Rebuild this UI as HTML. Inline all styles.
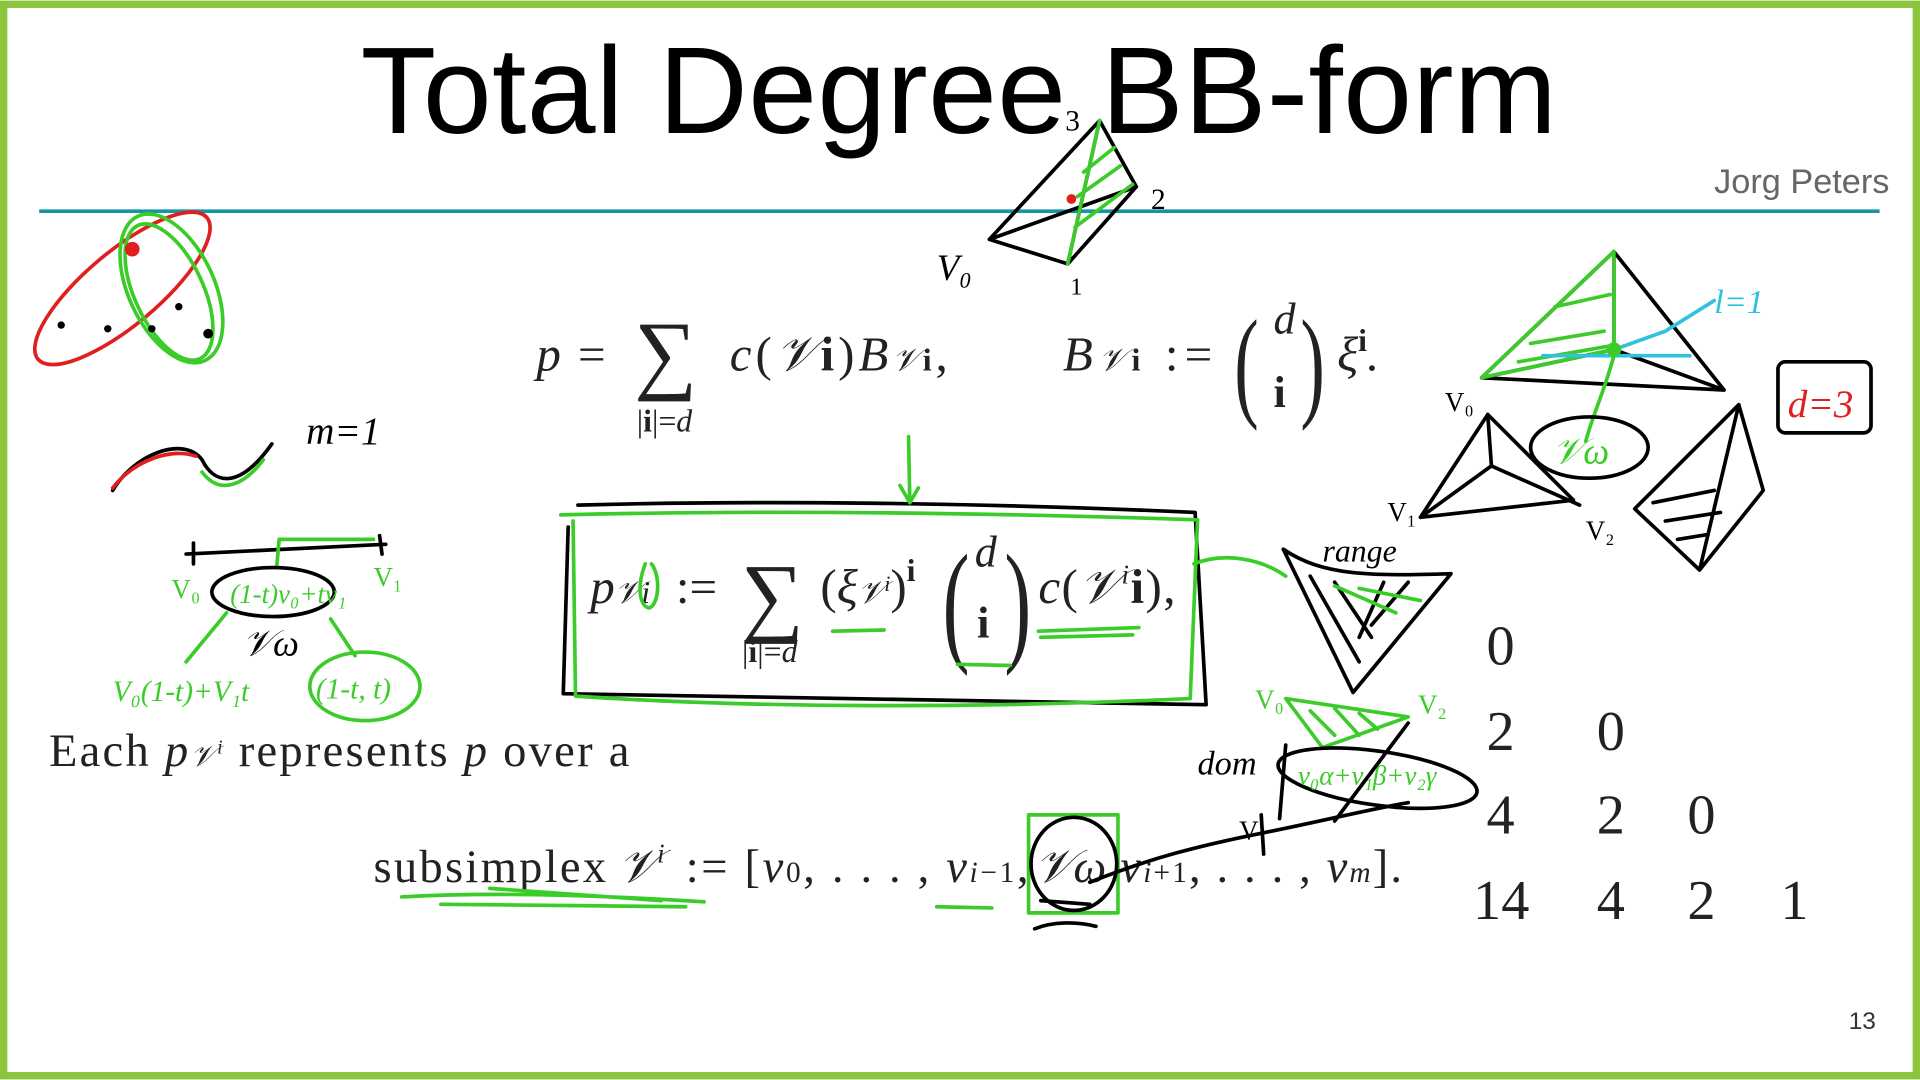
<!DOCTYPE html>
<html><head><meta charset="utf-8"><style>
html,body{margin:0;padding:0;background:#fff;}
svg{display:block;}
.serif{font-family:"Liberation Serif",serif;}
.g{fill:none;stroke:#3ccc2a;stroke-width:3;stroke-linecap:round;stroke-linejoin:round;}
.k{fill:none;stroke:#000;stroke-width:3;stroke-linecap:round;stroke-linejoin:round;}
.r{fill:none;stroke:#e02020;stroke-width:3;stroke-linecap:round;}
.c{fill:none;stroke:#30c0e0;stroke-width:3;stroke-linecap:round;}
</style></head><body>
<svg width="1920" height="1080" viewBox="0 0 1568 881" xmlns="http://www.w3.org/2000/svg">
<rect x="0" y="0" width="1568" height="881" fill="#fff"/>
<rect x="3" y="3" width="1562" height="875" fill="none" stroke="#8cc43c" stroke-width="6"/>
<text x="783" y="108" text-anchor="middle" font-family="Liberation Sans, sans-serif" font-size="101" textLength="977" fill="#000">Total Degree BB-form</text>
<line x1="32" y1="172" x2="1535" y2="172" stroke="#1596a6" stroke-width="3"/>
<text x="1543" y="157" text-anchor="end" font-family="Liberation Sans, sans-serif" font-size="28" fill="#666">Jorg Peters</text>
<text x="1532" y="840" text-anchor="end" font-family="Liberation Sans, sans-serif" font-size="20" fill="#333">13</text>

<!-- formula 1 -->
<g class="serif" fill="#222">
<text x="438" y="302" font-size="40" font-style="italic">p</text>
<text x="472" y="302" font-size="40">=</text>
<text x="518" y="312" font-size="72">∑</text>
<text x="520" y="352" font-size="26">|<tspan font-weight="bold">i</tspan>|=<tspan font-style="italic">d</tspan></text>
<text x="596" y="302" font-size="40" textLength="178"><tspan font-style="italic">c</tspan>(<tspan font-style="italic">𝒱</tspan><tspan font-weight="bold">i</tspan>)<tspan font-style="italic">B</tspan><tspan font-size="26" font-style="italic">𝒱</tspan><tspan font-size="26" font-weight="bold">i</tspan>,</text>
<text x="868" y="302" font-size="40" textLength="122"><tspan font-style="italic">B</tspan><tspan font-size="26" font-style="italic">𝒱</tspan><tspan font-size="26" font-weight="bold">i</tspan> :=</text>
<text x="1008" y="330" font-size="100" transform="scale(0.6,1) translate(672,0)">(</text>
<text x="1040" y="272" font-size="36" font-style="italic">d</text>
<text x="1040" y="332" font-size="36" font-weight="bold">i</text>
<text x="1062" y="330" font-size="100" transform="scale(0.6,1) translate(708,0)">)</text>
<text x="1092" y="302" font-size="40" font-style="italic">ξ<tspan font-size="26" font-style="normal" font-weight="bold" dy="-16">i</tspan><tspan dy="16">.</tspan></text>

<!-- formula 2 -->
<text x="482" y="492" font-size="40" font-style="italic">p<tspan font-size="26">𝒱i</tspan></text>
<text x="552" y="492" font-size="40">:=</text>
<text x="605" y="510" font-size="72">∑</text>
<text x="606" y="540" font-size="26">|<tspan font-weight="bold">i</tspan>|=<tspan font-style="italic">d</tspan></text>
<text x="670" y="492" font-size="40">(<tspan font-style="italic">ξ</tspan><tspan font-size="26" font-style="italic">𝒱<tspan dy="-10" font-size="18">i</tspan></tspan><tspan dy="10">)</tspan><tspan font-size="26" font-weight="bold" dy="-18">i</tspan></text>
<text x="770" y="528" font-size="110" transform="scale(0.6,1) translate(513,0)">(</text>
<text x="796" y="462" font-size="36" font-style="italic">d</text>
<text x="798" y="520" font-size="36" font-weight="bold">i</text>
<text x="820" y="528" font-size="110" transform="scale(0.6,1) translate(547,0)">)</text>
<text x="848" y="492" font-size="40" textLength="112"><tspan font-style="italic">c</tspan>(<tspan font-style="italic">𝒱</tspan><tspan font-size="22" font-style="italic" dy="-16">i</tspan><tspan dy="16" font-weight="bold">i</tspan>),</text>

<text x="40" y="625" font-size="38" textLength="474">Each <tspan font-style="italic">p</tspan><tspan font-size="24" font-style="italic">𝒱<tspan font-size="16" dy="-10">i</tspan></tspan><tspan dy="10"> represents </tspan><tspan font-style="italic">p</tspan> over a</text>
<text x="305" y="720" font-size="38" textLength="190">subsimplex</text>
<text x="505" y="720" font-size="38" font-style="italic">𝒱<tspan font-size="22" dy="-16">i</tspan></text>
<text x="560" y="720" font-size="38" textLength="280">:= [<tspan font-style="italic">ν</tspan><tspan font-size="24">0</tspan>, . . . , <tspan font-style="italic">ν</tspan><tspan font-size="24" font-style="italic">i</tspan><tspan font-size="24">−1</tspan>,</text>
<text x="845" y="720" font-size="38" font-style="italic">𝒱ω</text>
<text x="915" y="720" font-size="38" textLength="230"><tspan font-style="italic">ν</tspan><tspan font-size="24" font-style="italic">i</tspan><tspan font-size="24">+1</tspan>, . . . , <tspan font-style="italic">ν</tspan><tspan font-size="24" font-style="italic">m</tspan>].</text>

<!-- number triangle -->
<g font-size="46">
<text x="1214" y="542">0</text>
<text x="1214" y="612">2</text><text x="1304" y="612">0</text>
<text x="1214" y="680">4</text><text x="1304" y="680">2</text><text x="1378" y="680">0</text>
<text x="1203" y="750">14</text><text x="1304" y="750">4</text><text x="1378" y="750">2</text><text x="1454" y="750">1</text>
</g>
</g>

<!-- boxes around formula 2 -->
<path class="k" d="M472,412 C620,408 800,410 976,418 L985,575 C800,572 620,570 460,566 L464,430"/>
<path class="g" d="M458,420 C620,416 800,418 978,424 L972,570 C800,578 620,578 470,568 L468,425"/>
<path class="g" d="M742,356 L743,410 M735,396 L743,410 L750,398"/>
<path class="g" d="M527,460 C520,478 522,494 530,496 C538,494 540,470 532,460"/>
<path class="g" d="M680,515 L722,514 M782,542 L825,543 M848,515 L930,512 M850,520 L925,518"/>
<path class="g" d="M975,460 C1000,450 1030,456 1050,470"/>

<!-- subsimplex marks -->
<path class="g" d="M328,732 C400,728 480,730 575,736 M360,738 L560,740 M400,725 L540,735 M765,740 L810,741"/>
<rect class="g" x="840" y="665" width="73" height="80"/>
<ellipse class="k" cx="877" cy="705" rx="35" ry="38"/>
<path class="k" d="M850,735 L890,738 M845,758 C860,752 880,752 895,756"/>
<path class="k" d="M890,720 C940,700 980,690 1030,680 C1080,670 1120,660 1150,655"/>
<path class="k" d="M1030,665 L1032,697"/>

<!-- left sketches -->
<ellipse class="r" cx="100" cy="235" rx="90" ry="30" transform="rotate(-40 100 235)"/>
<ellipse class="g" cx="138" cy="238" rx="28" ry="60" transform="rotate(-25 138 238)"/>
<ellipse class="g" cx="140" cy="235" rx="35" ry="65" transform="rotate(-25 140 235)"/>
<circle cx="108" cy="203" r="6" fill="#e02020"/>
<g fill="#000"><circle cx="50" cy="265" r="3"/><circle cx="88" cy="268" r="3"/><circle cx="124" cy="268" r="3"/><circle cx="146" cy="250" r="3"/><circle cx="170" cy="272" r="4"/></g>
<path class="k" d="M92,400 C110,370 150,355 165,375 C175,395 195,400 222,362"/>
<path class="r" d="M92,398 C110,375 140,365 160,372"/>
<path class="g" d="M165,385 C180,405 200,395 215,375"/>
<text x="250" y="362" font-family="Liberation Serif,serif" font-size="32" font-style="italic">m=1</text>
<path class="k" d="M152,452 L315,444 M158,443 L158,460 M310,437 L312,452"/>
<path class="g" d="M228,440 L305,440 M228,440 L226,462"/>
<ellipse class="k" cx="223" cy="483" rx="50" ry="20"/>
<text x="188" y="492" font-family="Liberation Serif,serif" font-size="22" fill="#3ccc2a" font-style="italic">(1-t)v₀+tv₁</text>
<text x="140" y="488" font-family="Liberation Serif,serif" font-size="22" fill="#3ccc2a">V₀</text>
<text x="305" y="478" font-family="Liberation Serif,serif" font-size="22" fill="#3ccc2a">V₁</text>
<text x="198" y="535" font-family="Liberation Serif,serif" font-size="30" font-style="italic">𝒱ω</text>
<path class="g" d="M185,500 L152,540 M270,505 L290,535"/>
<text x="92" y="572" font-family="Liberation Serif,serif" font-size="24" fill="#3ccc2a" font-style="italic">V₀(1-t)+V₁t</text>
<text x="258" y="570" font-family="Liberation Serif,serif" font-size="24" fill="#3ccc2a" font-style="italic">(1-t, t)</text>
<ellipse class="g" cx="298" cy="560" rx="45" ry="28"/>

<!-- top tetrahedron -->
<path class="k" d="M898,98 L808,195 L872,215 Z M898,98 L928,152 L872,215 M808,195 L928,152"/>
<path class="g" d="M898,98 L872,215 M885,140 L910,120 M880,160 L915,135 M878,185 L925,150"/>
<circle cx="875" cy="162" r="4" fill="#e02020"/>
<text x="870" y="106" font-family="Liberation Serif,serif" font-size="24">3</text>
<text x="940" y="170" font-family="Liberation Serif,serif" font-size="24">2</text>
<text x="874" y="240" font-family="Liberation Serif,serif" font-size="20">1</text>
<text x="765" y="228" font-family="Liberation Serif,serif" font-size="30" font-style="italic">V₀</text>

<!-- right tetrahedra -->
<path class="k" d="M1318,205 L1210,308 L1408,318 Z M1318,205 L1318,285 L1210,308 M1318,285 L1408,318"/>
<path class="g" d="M1318,205 L1210,308 L1318,285 Z M1250,280 L1310,270 M1240,295 L1315,282 M1270,250 L1315,240"/>
<path class="c" d="M1318,285 L1360,270 L1400,245 M1260,290 L1380,290"/>
<text x="1400" y="255" font-family="Liberation Serif,serif" font-size="28" fill="#30c0e0" font-style="italic">l=1</text>
<circle cx="1318" cy="285" r="6" fill="#3ccc2a"/>
<path class="g" d="M1318,290 C1310,320 1300,340 1295,360"/>
<ellipse class="k" cx="1298" cy="365" rx="48" ry="25"/>
<text x="1268" y="378" font-family="Liberation Serif,serif" font-size="30" fill="#3ccc2a" font-style="italic">𝒱ω</text>
<rect class="k" x="1452" y="295" width="76" height="58" rx="6"/>
<text x="1460" y="340" font-family="Liberation Serif,serif" font-size="32" fill="#e02020" font-style="italic">d=3</text>
<text x="1180" y="335" font-family="Liberation Serif,serif" font-size="22">V₀</text>
<path class="k" d="M1215,338 L1160,422 L1285,408 Z M1215,338 L1218,380 L1160,422 M1218,380 L1290,412"/>
<text x="1133" y="425" font-family="Liberation Serif,serif" font-size="22">V₁</text>
<text x="1295" y="440" font-family="Liberation Serif,serif" font-size="22">V₂</text>
<path class="k" d="M1420,330 L1335,415 L1388,465 Z M1420,330 L1440,400 L1388,465 M1350,410 L1400,400 M1360,425 L1405,418 M1370,440 L1395,436"/>

<!-- range / dom -->
<text x="1080" y="458" font-family="Liberation Serif,serif" font-size="26" font-style="italic">range</text>
<path class="k" d="M1048,448 C1080,470 1120,470 1185,468 L1105,565 Z M1070,470 L1110,540 M1090,475 L1120,520 M1130,475 L1110,520 M1150,475 L1120,510"/>
<path class="g" d="M1090,478 L1140,500 M1110,480 L1160,490"/>
<text x="1025" y="578" font-family="Liberation Serif,serif" font-size="22" fill="#3ccc2a">V₀</text>
<text x="1158" y="582" font-family="Liberation Serif,serif" font-size="22" fill="#3ccc2a">V₂</text>
<path class="g" d="M1050,570 L1150,585 L1080,610 Z M1070,580 L1090,600 M1090,578 L1110,600 M1110,582 L1125,595"/>
<path class="k" d="M1050,608 L1045,668 M1150,590 L1090,670"/>
<ellipse class="k" cx="1125" cy="635" rx="82" ry="22" transform="rotate(8 1125 635)"/>
<text x="1060" y="640" font-family="Liberation Serif,serif" font-size="22" fill="#3ccc2a" font-style="italic">v₀α+v₁β+v₂γ</text>
<text x="978" y="632" font-family="Liberation Serif,serif" font-size="28" font-style="italic">dom</text>
<text x="1012" y="685" font-family="Liberation Serif,serif" font-size="22">V</text>
</svg>
</body></html>
